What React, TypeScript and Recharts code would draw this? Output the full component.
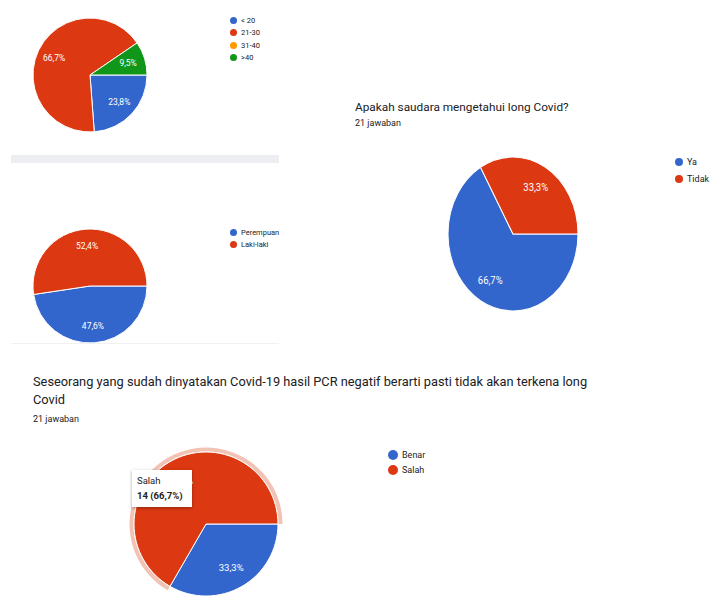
import React from "react";
import { PieChart, Pie, Cell } from "recharts";

// usia (age)
const ageNames = ["< 20", "21-30", "31-40", ">40"];
const ageCounts = [5, 14, 0, 2];
const ageColors = ["#3366cc", "#dc3912", "#ff9900", "#109618"];

// jenis kelamin
const genderNames = ["Perempuan", "Laki-laki"];
const genderCounts = [10, 11];

// long covid
const longCovidTitle = "Apakah saudara mengetahui long Covid?";
const longCovidNames = ["Ya", "Tidak"];
const longCovidCounts = [14, 7];

// PCR question
const pcrTitle1 = "Seseorang yang sudah dinyatakan Covid-19 hasil PCR negatif berarti pasti tidak akan terkena long";
const pcrTitle2 = "Covid";
const pcrNames = ["Benar", "Salah"];
const pcrCounts = [7, 14];
const pcrHovered = 1;

const responses = "21 jawaban";
const twoColors = ["#3366cc", "#dc3912"];
const FONT = "Roboto, Arial, sans-serif";
const RAD = Math.PI / 180;
const NO_MARGIN = { top: 0, right: 0, bottom: 0, left: 0 };

const toRows = (names: string[], counts: number[]) =>
  names.map((name, i) => ({ name, value: counts[i] }));

const pct = (p: number) => (p * 100).toFixed(1).replace(".", ",") + "%";

const makeLabel = (size: number) => (props: any) => {
  const { cx, cy, midAngle, outerRadius, percent, value } = props;
  if (!value) return null;
  const r = outerRadius * 0.7;
  const x = cx + r * Math.cos(-midAngle * RAD);
  const y = cy + r * Math.sin(-midAngle * RAD);
  return (
    <text x={x} y={y} fill="#fff" fontSize={size} fontFamily={FONT} textAnchor="middle" dominantBaseline="central">
      {pct(percent)}
    </text>
  );
};

function Legend({ names, colors, left, top, gap, dot, size }: any) {
  return (
    <div style={{ position: "absolute", left, top }}>
      {names.map((n: string, i: number) => (
        <div key={n} style={{ display: "flex", alignItems: "center", height: gap }}>
          <span style={{ width: dot * 2, height: dot * 2, borderRadius: "50%", background: colors[i], marginRight: 4 }} />
          <span style={{ fontSize: size, color: "#222", fontFamily: FONT }}>{n}</span>
        </div>
      ))}
    </div>
  );
}

function SmallPie({ rows, colors, cx, cy, r, size, scaleY = 1 }: any) {
  const box = r * 2 + 16;
  return (
    <div style={{ position: "absolute", left: cx - box / 2, top: cy - box / 2, transform: `scaleY(${scaleY})`, transformOrigin: "center" }}>
      <PieChart width={box} height={box} margin={NO_MARGIN}>
        <Pie
          data={rows}
          dataKey="value"
          cx={box / 2}
          cy={box / 2}
          outerRadius={r}
          startAngle={0}
          endAngle={-360}
          stroke="#fff"
          strokeWidth={1}
          labelLine={false}
          label={makeLabel(size)}
          isAnimationActive={false}
        >
          {rows.map((_: any, i: number) => (
            <Cell key={i} fill={colors[i]} />
          ))}
        </Pie>
      </PieChart>
    </div>
  );
}

export default function App() {
  const pcrRows = toRows(pcrNames, pcrCounts);
  const total = pcrCounts.reduce((a, b) => a + b, 0);
  const box4 = 72 * 2 + 20;
  return (
    <div style={{ position: "absolute", left: 0, top: 0, width: 710, height: 597, overflow: "hidden", background: "#fff", fontFamily: FONT }}>
      {/* age */}
      <SmallPie rows={toRows(ageNames, ageCounts)} colors={ageColors} cx={90} cy={75} r={57} size={8.5} />
      <Legend names={ageNames} colors={ageColors} left={230} top={14} gap={12.5} dot={3.5} size={7.5} />

      <div style={{ position: "absolute", left: 11, top: 155, width: 268, height: 8, background: "#eceef2" }} />

      {/* gender */}
      <SmallPie rows={toRows(genderNames, genderCounts)} colors={twoColors} cx={90} cy={286} r={57} size={8.5} />
      <Legend names={genderNames} colors={twoColors} left={230} top={226} gap={12.5} dot={3.5} size={7.5} />
      <div style={{ position: "absolute", left: 11, top: 343, width: 268, height: 1, background: "#f1f1f1" }} />

      {/* long covid */}
      <div style={{ position: "absolute", left: 355, top: 100, fontSize: 11.8, color: "#202124", whiteSpace: "nowrap" }}>{longCovidTitle}</div>
      <div style={{ position: "absolute", left: 355, top: 118, fontSize: 9, color: "#202124" }}>{responses}</div>
      <SmallPie rows={toRows(longCovidNames, longCovidCounts)} colors={twoColors} cx={513} cy={234} r={65} size={9.5} scaleY={77 / 65} />
      <Legend names={longCovidNames} colors={twoColors} left={675} top={153} gap={17} dot={4} size={9} />

      {/* PCR */}
      <div style={{ position: "absolute", left: 33, top: 374, fontSize: 12.8, color: "#202124", whiteSpace: "nowrap" }}>{pcrTitle1}</div>
      <div style={{ position: "absolute", left: 33, top: 392, fontSize: 12.8, color: "#202124" }}>{pcrTitle2}</div>
      <div style={{ position: "absolute", left: 33, top: 414, fontSize: 9, color: "#202124" }}>{responses}</div>
      <div style={{ position: "absolute", left: 206 - box4 / 2, top: 524 - box4 / 2 }}>
        <PieChart width={box4} height={box4} margin={NO_MARGIN}>
          <Pie
            data={pcrRows}
            dataKey="value"
            cx={box4 / 2}
            cy={box4 / 2}
            innerRadius={72.5}
            outerRadius={76.5}
            startAngle={0}
            endAngle={-360}
            stroke="none"
            isAnimationActive={false}
          >
            {pcrRows.map((_, i) => (
              <Cell key={i} fill={i === pcrHovered ? "#f2c2b4" : "none"} />
            ))}
          </Pie>
          <Pie
            data={pcrRows}
            dataKey="value"
            cx={box4 / 2}
            cy={box4 / 2}
            outerRadius={72}
            startAngle={0}
            endAngle={-360}
            stroke="#fff"
            strokeWidth={1}
            labelLine={false}
            label={makeLabel(9.5)}
            isAnimationActive={false}
          >
            {pcrRows.map((_, i) => (
              <Cell key={i} fill={twoColors[i]} />
            ))}
          </Pie>
        </PieChart>
      </div>
      <div
        style={{
          position: "absolute",
          left: 132,
          top: 470,
          width: 60,
          height: 37,
          background: "#fff",
          boxShadow: "0 1px 3px rgba(0,0,0,0.35)",
          fontSize: 9.5,
          color: "#222",
          padding: "3px 0 0 5px",
          boxSizing: "border-box",
          lineHeight: "15px",
          whiteSpace: "nowrap",
        }}
      >
        <div>{pcrNames[pcrHovered]}</div>
        <div style={{ fontWeight: 700 }}>
          {pcrCounts[pcrHovered]} ({pct(pcrCounts[pcrHovered] / total)})
        </div>
      </div>
      <Legend names={pcrNames} colors={twoColors} left={388} top={447} gap={15} dot={5} size={9} />
    </div>
  );
}
